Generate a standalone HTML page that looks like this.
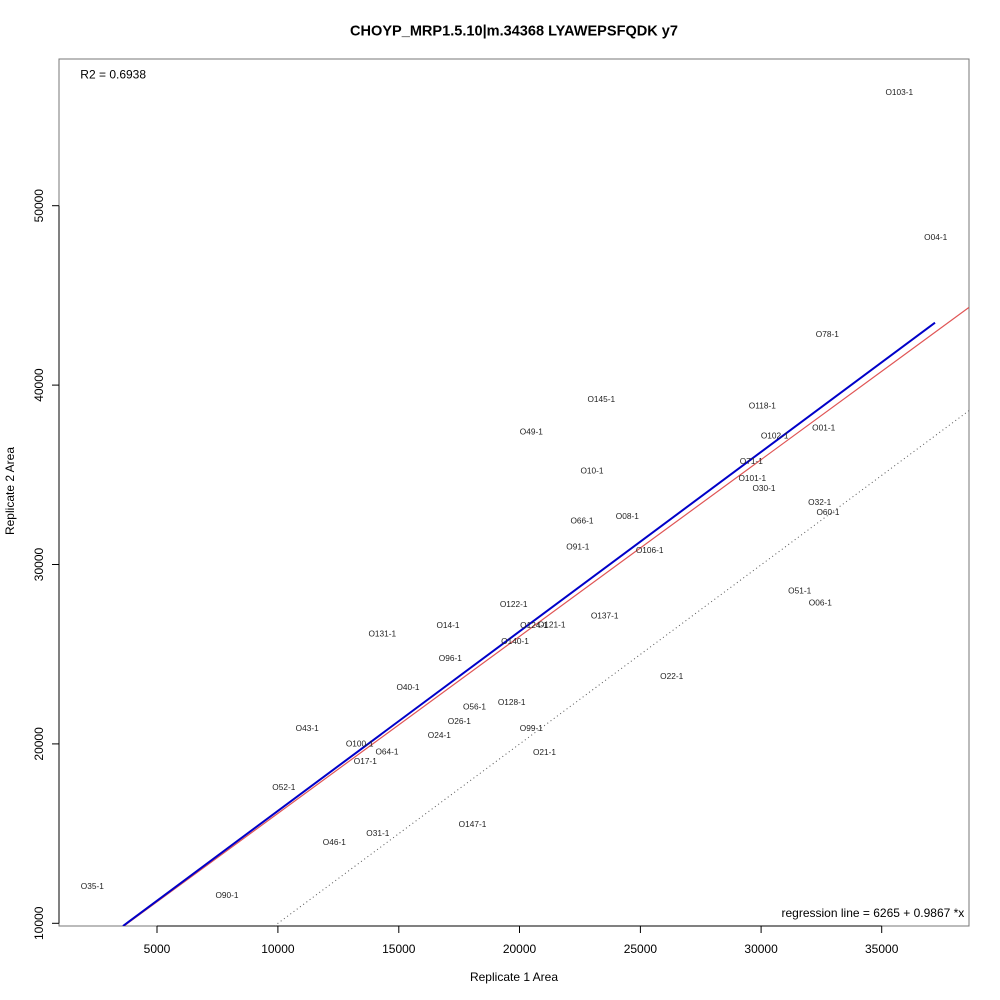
<!DOCTYPE html>
<html>
<head>
<meta charset="utf-8">
<style>
  html, body { margin: 0; padding: 0; background: #fff; }
  svg { display: block; }
  text { font-family: "Liberation Sans", Arial, sans-serif; }
</style>
</head>
<body>
<svg width="1000" height="1000" viewBox="0 0 1000 1000" xmlns="http://www.w3.org/2000/svg">
  <rect x="0" y="0" width="1000" height="1000" fill="#fff"/>

  <!-- Title -->
  <text x="514" y="35.5" text-anchor="middle" font-size="15" font-weight="bold" fill="#000" textLength="328" lengthAdjust="spacingAndGlyphs">CHOYP_MRP1.5.10|m.34368 LYAWEPSFQDK y7</text>

  <!-- Plot box -->
  <rect x="59" y="59" width="910" height="867" fill="none" stroke="#777" stroke-width="1"/>

  <!-- X axis -->
  <g stroke="#000" stroke-width="1">
    <line x1="157" y1="926" x2="881.7" y2="926"/>
    <line x1="157" y1="926" x2="157" y2="933"/>
    <line x1="277.9" y1="926" x2="277.9" y2="933"/>
    <line x1="398.8" y1="926" x2="398.8" y2="933"/>
    <line x1="519.5" y1="926" x2="519.5" y2="933"/>
    <line x1="640.4" y1="926" x2="640.4" y2="933"/>
    <line x1="761.1" y1="926" x2="761.1" y2="933"/>
    <line x1="881.7" y1="926" x2="881.7" y2="933"/>
  </g>
  <g font-size="12" fill="#000" text-anchor="middle">
    <text x="157" y="953">5000</text>
    <text x="277.9" y="953">10000</text>
    <text x="398.8" y="953">15000</text>
    <text x="519.5" y="953">20000</text>
    <text x="640.4" y="953">25000</text>
    <text x="761.1" y="953">30000</text>
    <text x="881.7" y="953">35000</text>
  </g>

  <!-- Y axis -->
  <g stroke="#000" stroke-width="1">
    <line x1="59" y1="923.3" x2="59" y2="205.7"/>
    <line x1="52" y1="923.3" x2="59" y2="923.3"/>
    <line x1="52" y1="743.9" x2="59" y2="743.9"/>
    <line x1="52" y1="564.5" x2="59" y2="564.5"/>
    <line x1="52" y1="385.1" x2="59" y2="385.1"/>
    <line x1="52" y1="205.7" x2="59" y2="205.7"/>
  </g>
  <g font-size="12" fill="#000" text-anchor="middle">
    <text transform="translate(43,923.3) rotate(-90)">10000</text>
    <text transform="translate(43,743.9) rotate(-90)">20000</text>
    <text transform="translate(43,564.5) rotate(-90)">30000</text>
    <text transform="translate(43,385.1) rotate(-90)">40000</text>
    <text transform="translate(43,205.7) rotate(-90)">50000</text>
  </g>

  <!-- Axis titles -->
  <text x="514" y="981" font-size="12" text-anchor="middle" fill="#000">Replicate 1 Area</text>
  <text transform="translate(14,491) rotate(-90)" font-size="12" text-anchor="middle" fill="#000">Replicate 2 Area</text>

  <!-- Annotations -->
  <text x="80.3" y="78.3" font-size="12" fill="#000">R2 = 0.6938</text>
  <text x="964.3" y="917" font-size="12" fill="#000" text-anchor="end">regression line = 6265 + 0.9867 *x</text>

  <!-- Lines (clipped) -->
  <defs>
    <clipPath id="pc"><rect x="59" y="59" width="910" height="867"/></clipPath>
  </defs>
  <g clip-path="url(#pc)">
    <line x1="274.3" y1="926" x2="969" y2="410.6" stroke="#555" stroke-width="1" stroke-dasharray="1,3"/>
    <line x1="124" y1="926" x2="969" y2="307.4" stroke="#e05555" stroke-width="1.2"/>
    <line x1="123" y1="926" x2="935" y2="322.7" stroke="#0000c8" stroke-width="2"/>
  </g>

  <!-- Point labels -->
  <g font-size="8.3" fill="#222" text-anchor="middle">
    <text x="899.3" y="95">O103-1</text>
    <text x="935.7" y="240">O04-1</text>
    <text x="827.3" y="337">O78-1</text>
    <text x="601.3" y="402">O145-1</text>
    <text x="762.3" y="408.7">O118-1</text>
    <text x="823.7" y="430.7">O01-1</text>
    <text x="531.3" y="434.7">O49-1</text>
    <text x="774.7" y="438.7">O102-1</text>
    <text x="751.3" y="464">O71-1</text>
    <text x="592" y="473.7">O10-1</text>
    <text x="752.3" y="481">O101-1</text>
    <text x="764" y="491">O30-1</text>
    <text x="819.7" y="505">O32-1</text>
    <text x="828" y="515">O60-1</text>
    <text x="627.3" y="519">O08-1</text>
    <text x="582" y="523.7">O66-1</text>
    <text x="577.8" y="549.7">O91-1</text>
    <text x="649.7" y="553">O106-1</text>
    <text x="799.7" y="593.3">O51-1</text>
    <text x="820.3" y="605.3">O06-1</text>
    <text x="513.7" y="607">O122-1</text>
    <text x="604.7" y="618.7">O137-1</text>
    <text x="448" y="628">O14-1</text>
    <text x="534" y="628">O124-1</text>
    <text x="551.7" y="627.7">O121-1</text>
    <text x="382.3" y="636.7">O131-1</text>
    <text x="515" y="644">O140-1</text>
    <text x="450.3" y="661">O96-1</text>
    <text x="671.7" y="679">O22-1</text>
    <text x="408" y="690">O40-1</text>
    <text x="511.7" y="705">O128-1</text>
    <text x="474.5" y="709.7">O56-1</text>
    <text x="459.3" y="724">O26-1</text>
    <text x="307.2" y="731">O43-1</text>
    <text x="531.3" y="731">O99-1</text>
    <text x="439.3" y="738">O24-1</text>
    <text x="359.7" y="746.3">O100-1</text>
    <text x="387" y="754.3">O64-1</text>
    <text x="544.5" y="755">O21-1</text>
    <text x="365.3" y="764">O17-1</text>
    <text x="283.8" y="790">O52-1</text>
    <text x="472.5" y="827">O147-1</text>
    <text x="377.8" y="836">O31-1</text>
    <text x="334.3" y="845">O46-1</text>
    <text x="92.3" y="889">O35-1</text>
    <text x="227" y="898">O90-1</text>
  </g>
</svg>
</body>
</html>
